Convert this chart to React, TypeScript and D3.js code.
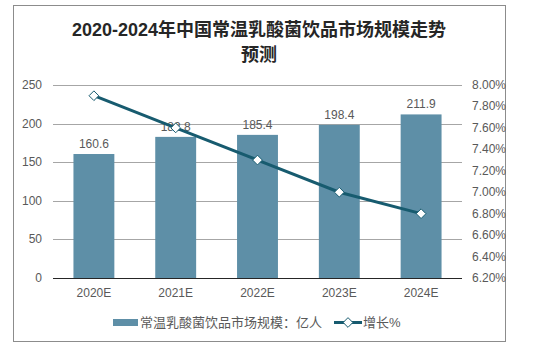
import React from 'react';
import * as d3 from 'd3';

const years = ['2020E', '2021E', '2022E', '2023E', '2024E'];
const marketSize = [160.6, 182.8, 185.4, 198.4, 211.9];
const growth = [7.9, 7.6, 7.3, 7.0, 6.8];
const leftTicks = [0, 50, 100, 150, 200, 250];
const rightTicks = [6.2, 6.4, 6.6, 6.8, 7.0, 7.2, 7.4, 7.6, 7.8, 8.0];

const W = 534;
const H = 354;
const plot = { left: 53, right: 462, top: 85, bottom: 278 };
const barColor = '#5E8FA7';
const lineColor = '#175B6F';
const textColor = '#595959';
const font = '"Liberation Sans", Arial, "Noto Sans CJK SC", sans-serif';

const App = () => {
  const x = d3.scaleBand<string>()
    .domain(years)
    .range([plot.left, plot.right])
    .paddingInner(0.5)
    .paddingOuter(0.25);
  const y = d3.scaleLinear().domain([0, 250]).range([plot.bottom, plot.top]);
  const yRight = d3.scaleLinear().domain([6.2, 8.0]).range([plot.bottom, plot.top]);

  const cx = (i: number) => (x(years[i]) as number) + x.bandwidth() / 2;

  const linePath = d3.line<number>()
    .x((_, i) => cx(i))
    .y(d => yRight(d))(growth);

  const diamond = d3.symbol().type(d3.symbolDiamond2).size(60)();

  return (
    <div style={{ position: 'absolute', left: 0, top: 0 }}>
      <svg width={W} height={H} style={{ fontFamily: font, display: 'block' }}>
        <rect x={0} y={0} width={W} height={H} fill="#fff" />
        <rect x={13.5} y={5.5} width={492} height={336} fill="none" stroke="#8c8c8c" />

        {/* Title */}
        <text x={259} y={36} textAnchor="middle" fill="#262626" style={{ fontSize: 18, fontWeight: 'bold' }}>
          2020-2024年中国常温乳酸菌饮品市场规模走势
        </text>
        <text x={259} y={61} textAnchor="middle" fill="#262626" style={{ fontSize: 18, fontWeight: 'bold' }}>
          预测
        </text>

        {/* Grid lines */}
        {leftTicks.map(t => (
          <line key={`g-${t}`} x1={plot.left} x2={plot.right} y1={Math.round(y(t)) + 0.5} y2={Math.round(y(t)) + 0.5}
            stroke={t === 0 ? '#262626' : '#a6a6a6'} strokeWidth={1} />
        ))}

        {/* Bars */}
        {marketSize.map((v, i) => (
          <rect key={`b-${i}`} x={x(years[i])} y={y(v)} width={x.bandwidth()} height={plot.bottom - y(v)} fill={barColor} />
        ))}

        {/* Bar labels */}
        {marketSize.map((v, i) => (
          <text key={`bl-${i}`} x={cx(i)} y={y(v) - 6} textAnchor="middle" fill={textColor} style={{ fontSize: 12 }}>
            {v.toFixed(1)}
          </text>
        ))}

        {/* Growth line */}
        <path d={linePath || ''} fill="none" stroke={lineColor} strokeWidth={3} />
        {growth.map((g, i) => (
          <path key={`m-${i}`} d={diamond || ''} transform={`translate(${cx(i)},${yRight(g)})`}
            fill="#fff" stroke={lineColor} strokeWidth={1} />
        ))}

        {/* Left axis labels */}
        {leftTicks.map(t => (
          <text key={`l-${t}`} x={42} y={y(t) + 4} textAnchor="end" fill={textColor} style={{ fontSize: 12 }}>
            {t}
          </text>
        ))}

        {/* Right axis labels */}
        {rightTicks.map(t => (
          <text key={`r-${t}`} x={472} y={yRight(t) + 4} textAnchor="start" fill={textColor} style={{ fontSize: 12 }}>
            {t.toFixed(2)}%
          </text>
        ))}

        {/* X axis labels */}
        {years.map((yr, i) => (
          <text key={`x-${yr}`} x={cx(i)} y={297} textAnchor="middle" fill={textColor} style={{ fontSize: 12 }}>
            {yr}
          </text>
        ))}

        {/* Legend */}
        <rect x={113} y={319} width={25} height={7} fill={barColor} />
        <text x={140} y={327} fill={textColor} style={{ fontSize: 13 }}>常温乳酸菌饮品市场规模：亿人</text>
        <line x1={334} x2={362} y1={322.5} y2={322.5} stroke={lineColor} strokeWidth={3} />
        <path d={diamond || ''} transform="translate(348,322.5)" fill="#fff" stroke={lineColor} strokeWidth={1} />
        <text x={363} y={327} fill={textColor} style={{ fontSize: 13 }}>增长%</text>
      </svg>
    </div>
  );
};

export default App;
